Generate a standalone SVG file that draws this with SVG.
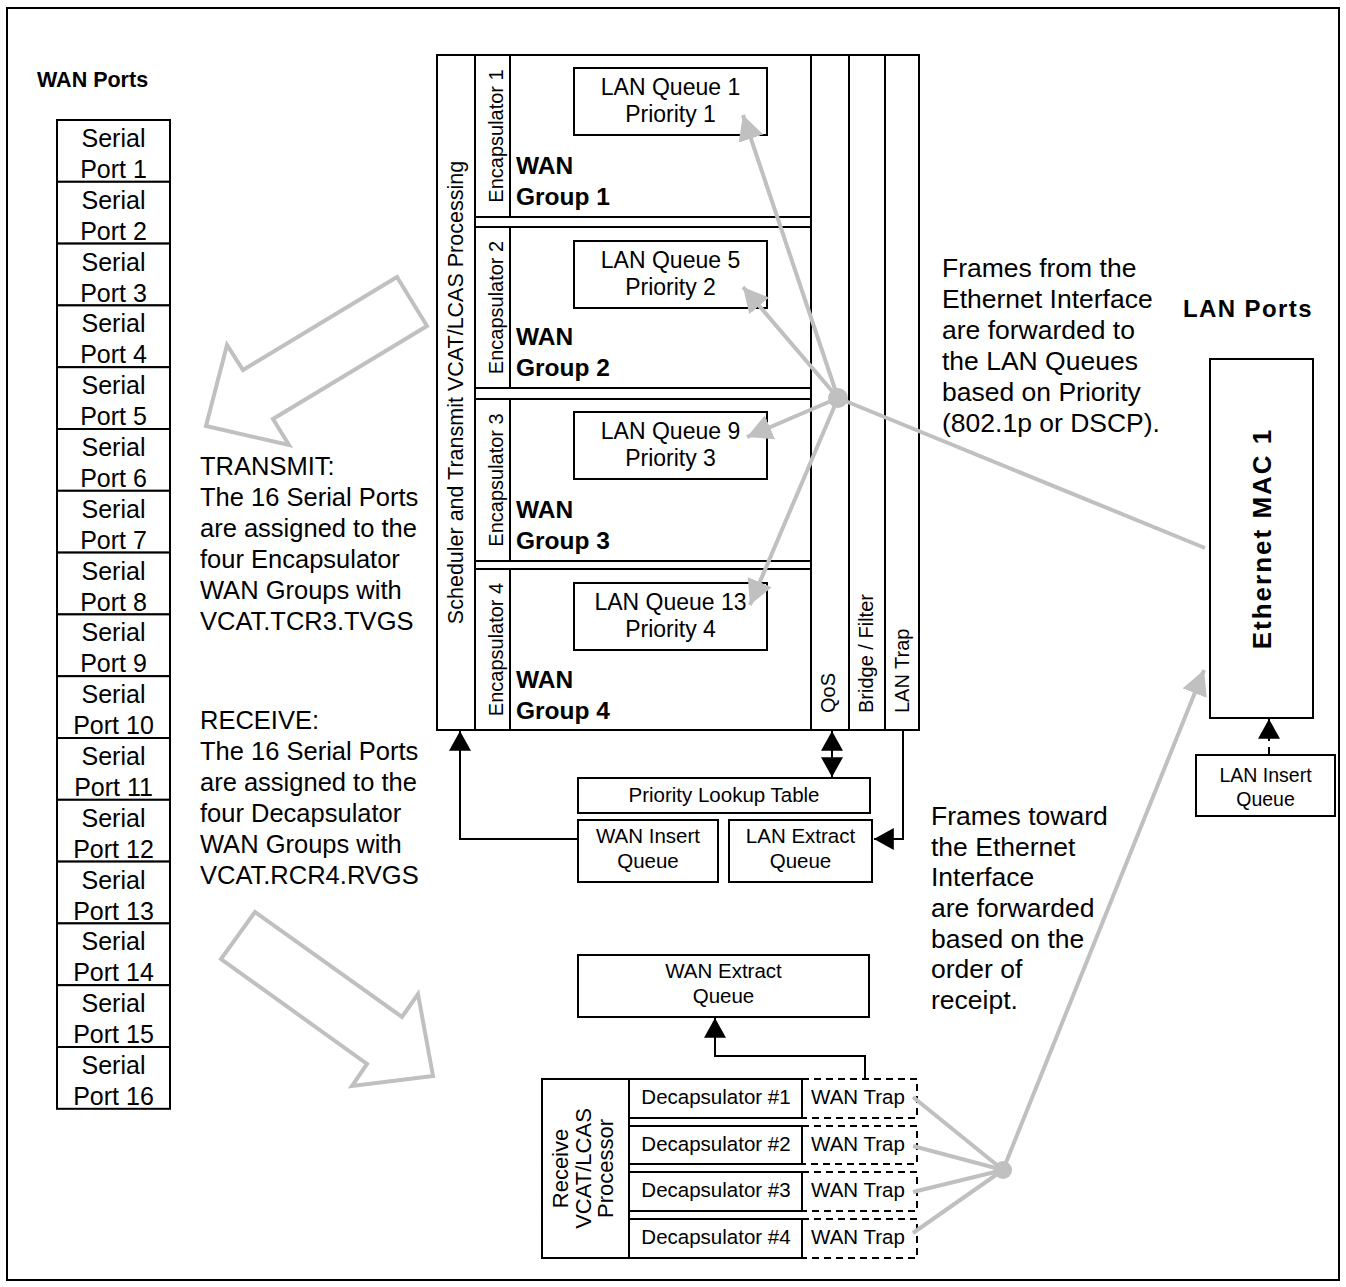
<svg xmlns="http://www.w3.org/2000/svg" width="1346" height="1287" viewBox="0 0 1346 1287">
<style>
text{font-family:"Liberation Sans",Arial,Helvetica,sans-serif;fill:#000}
.box{fill:#fff;stroke:#000;stroke-width:2}
.ln{fill:none;stroke:#000;stroke-width:2}
.dash{fill:none;stroke:#000;stroke-width:2;stroke-dasharray:7,5}
.gl{fill:none;stroke:#c0c0c0;stroke-width:4}
.hollow{fill:none;stroke:#c0c0c0;stroke-width:4;stroke-linejoin:miter}
.port{font-size:25px;text-anchor:middle}
.q{font-size:23px;text-anchor:middle}
.grp{font-size:24.5px;font-weight:bold}
.vt{font-size:20px}
.sm{font-size:20.5px;text-anchor:middle}
.body{font-size:25.5px}
.hdr{font-size:21.5px;font-weight:bold}
</style>
<defs>
<marker id="ab" markerUnits="userSpaceOnUse" markerWidth="22" markerHeight="22" refX="18" refY="10" orient="auto" viewBox="0 0 20 20">
<path d="M0,0 L18,10 L0,20 Z" fill="#000"/>
</marker>
<marker id="ag" markerUnits="userSpaceOnUse" markerWidth="26" markerHeight="26" refX="23" refY="12" orient="auto" viewBox="0 0 24 24">
<path d="M0,0 L23,12 L0,24 Z" fill="#c0c0c0"/>
</marker>
</defs>

<rect x="7" y="8" width="1332" height="1272" fill="none" stroke="#000" stroke-width="2"/>

<g id="wan-ports-label"><text class="hdr" x="37" y="87">WAN Ports</text></g>
<g id="lan-ports-label"><text class="hdr" x="1183" y="317" style="font-size:24px;letter-spacing:1.4px">LAN Ports</text></g>

<g id="serial-ports">
<g id="port1"><rect class="box" x="57" y="120" width="113" height="61.8"/><text class="port" x="113.5" y="147">Serial</text><text class="port" x="113.5" y="178">Port 1</text></g>
<g id="port2"><rect class="box" x="57" y="181.8" width="113" height="61.8"/><text class="port" x="113.5" y="208.8">Serial</text><text class="port" x="113.5" y="239.8">Port 2</text></g>
<g id="port3"><rect class="box" x="57" y="243.6" width="113" height="61.8"/><text class="port" x="113.5" y="270.6">Serial</text><text class="port" x="113.5" y="301.6">Port 3</text></g>
<g id="port4"><rect class="box" x="57" y="305.4" width="113" height="61.8"/><text class="port" x="113.5" y="332.4">Serial</text><text class="port" x="113.5" y="363.4">Port 4</text></g>
<g id="port5"><rect class="box" x="57" y="367.2" width="113" height="61.8"/><text class="port" x="113.5" y="394.2">Serial</text><text class="port" x="113.5" y="425.2">Port 5</text></g>
<g id="port6"><rect class="box" x="57" y="429" width="113" height="61.8"/><text class="port" x="113.5" y="456">Serial</text><text class="port" x="113.5" y="487">Port 6</text></g>
<g id="port7"><rect class="box" x="57" y="490.8" width="113" height="61.8"/><text class="port" x="113.5" y="517.8">Serial</text><text class="port" x="113.5" y="548.8">Port 7</text></g>
<g id="port8"><rect class="box" x="57" y="552.6" width="113" height="61.8"/><text class="port" x="113.5" y="579.6">Serial</text><text class="port" x="113.5" y="610.6">Port 8</text></g>
<g id="port9"><rect class="box" x="57" y="614.4" width="113" height="61.8"/><text class="port" x="113.5" y="641.4">Serial</text><text class="port" x="113.5" y="672.4">Port 9</text></g>
<g id="port10"><rect class="box" x="57" y="676.2" width="113" height="61.8"/><text class="port" x="113.5" y="703.2">Serial</text><text class="port" x="113.5" y="734.2">Port 10</text></g>
<g id="port11"><rect class="box" x="57" y="738" width="113" height="61.8"/><text class="port" x="113.5" y="765">Serial</text><text class="port" x="113.5" y="796">Port 11</text></g>
<g id="port12"><rect class="box" x="57" y="799.8" width="113" height="61.8"/><text class="port" x="113.5" y="826.8">Serial</text><text class="port" x="113.5" y="857.8">Port 12</text></g>
<g id="port13"><rect class="box" x="57" y="861.6" width="113" height="61.8"/><text class="port" x="113.5" y="888.6">Serial</text><text class="port" x="113.5" y="919.6">Port 13</text></g>
<g id="port14"><rect class="box" x="57" y="923.4" width="113" height="61.8"/><text class="port" x="113.5" y="950.4">Serial</text><text class="port" x="113.5" y="981.4">Port 14</text></g>
<g id="port15"><rect class="box" x="57" y="985.2" width="113" height="61.8"/><text class="port" x="113.5" y="1012.2">Serial</text><text class="port" x="113.5" y="1043.2">Port 15</text></g>
<g id="port16"><rect class="box" x="57" y="1047" width="113" height="61.8"/><text class="port" x="113.5" y="1074">Serial</text><text class="port" x="113.5" y="1105">Port 16</text></g>
</g>

<g id="transmit-arrow"><polygon class="hollow" points="397,277 427,326 273,419 289,445 206,426 227,345 243,370"/></g>
<g id="receive-arrow"><polygon class="hollow" points="255,912 221,959 367,1064 352,1086 433,1076 418,994 402,1017"/></g>

<g id="transmit-note">
<text class="body" x="200" y="475">TRANSMIT:</text>
<text class="body" x="200" y="506">The 16 Serial Ports</text>
<text class="body" x="200" y="537">are assigned to the</text>
<text class="body" x="200" y="568">four Encapsulator</text>
<text class="body" x="200" y="599">WAN Groups with</text>
<text class="body" x="200" y="630">VCAT.TCR3.TVGS</text>
</g>
<g id="receive-note">
<text class="body" x="200" y="729">RECEIVE:</text>
<text class="body" x="200" y="760">The 16 Serial Ports</text>
<text class="body" x="200" y="791">are assigned to the</text>
<text class="body" x="200" y="822">four Decapsulator</text>
<text class="body" x="200" y="853">WAN Groups with</text>
<text class="body" x="200" y="884">VCAT.RCR4.RVGS</text>
</g>

<g id="transmit-block">
<rect class="box" x="437" y="55" width="482" height="675"/>
<line class="ln" x1="811" y1="55" x2="811" y2="730"/>
<line class="ln" x1="849" y1="55" x2="849" y2="730"/>
<line class="ln" x1="885" y1="55" x2="885" y2="730"/>
<line class="ln" x1="475" y1="55" x2="475" y2="730"/>
<text class="vt" transform="translate(463,392.5) rotate(-90)" text-anchor="middle" style="font-size:21.5px">Scheduler and Transmit VCAT/LCAS Processing</text>
<g id="qos"><text class="vt" transform="translate(835,713) rotate(-90)">QoS</text></g>
<g id="bridge-filter"><text class="vt" transform="translate(873,713) rotate(-90)">Bridge / Filter</text></g>
<g id="lan-trap"><text class="vt" transform="translate(909,713) rotate(-90)">LAN Trap</text></g>
</g>

<g id="wan-group-1">
<rect class="box" x="475" y="55" width="336" height="162"/>
<line class="ln" x1="510" y1="55" x2="510" y2="217"/>
<text class="vt" transform="translate(503,136) rotate(-90)" text-anchor="middle">Encapsulator 1</text>
<text class="grp" x="516" y="174">WAN</text><text class="grp" x="516" y="205">Group 1</text>
<rect class="box" x="574" y="68" width="193" height="67"/>
<text class="q" x="670.5" y="95">LAN Queue 1</text><text class="q" x="670.5" y="122">Priority 1</text>
</g>
<g id="wan-group-2">
<rect class="box" x="475" y="227" width="336" height="161"/>
<line class="ln" x1="510" y1="227" x2="510" y2="388"/>
<text class="vt" transform="translate(503,307.5) rotate(-90)" text-anchor="middle">Encapsulator 2</text>
<text class="grp" x="516" y="345">WAN</text><text class="grp" x="516" y="376">Group 2</text>
<rect class="box" x="574" y="241" width="193" height="67"/>
<text class="q" x="670.5" y="268">LAN Queue 5</text><text class="q" x="670.5" y="295">Priority 2</text>
</g>
<g id="wan-group-3">
<rect class="box" x="475" y="399" width="336" height="162"/>
<line class="ln" x1="510" y1="399" x2="510" y2="561"/>
<text class="vt" transform="translate(503,480) rotate(-90)" text-anchor="middle">Encapsulator 3</text>
<text class="grp" x="516" y="518">WAN</text><text class="grp" x="516" y="549">Group 3</text>
<rect class="box" x="574" y="412" width="193" height="67"/>
<text class="q" x="670.5" y="439">LAN Queue 9</text><text class="q" x="670.5" y="466">Priority 3</text>
</g>
<g id="wan-group-4">
<rect class="box" x="475" y="569" width="336" height="161"/>
<line class="ln" x1="510" y1="569" x2="510" y2="730"/>
<text class="vt" transform="translate(503,649.5) rotate(-90)" text-anchor="middle">Encapsulator 4</text>
<text class="grp" x="516" y="688">WAN</text><text class="grp" x="516" y="719">Group 4</text>
<rect class="box" x="574" y="583" width="193" height="67"/>
<text class="q" x="670.5" y="610">LAN Queue 13</text><text class="q" x="670.5" y="637">Priority 4</text>
</g>

<g id="priority-lookup-table"><rect class="box" x="578" y="778" width="292" height="35"/><text class="sm" x="724" y="802">Priority Lookup Table</text></g>
<g id="wan-insert-queue"><rect class="box" x="578" y="820" width="140" height="62"/><text class="sm" x="648" y="843">WAN Insert</text><text class="sm" x="648" y="868">Queue</text></g>
<g id="lan-extract-queue"><rect class="box" x="729" y="820" width="143" height="62"/><text class="sm" x="800.5" y="843">LAN Extract</text><text class="sm" x="800.5" y="868">Queue</text></g>

<g id="frames-from-note">
<text class="body" x="942" y="277" style="font-size:26.5px">Frames from the</text>
<text class="body" x="942" y="308" style="font-size:26.5px">Ethernet Interface</text>
<text class="body" x="942" y="339" style="font-size:26.5px">are forwarded to</text>
<text class="body" x="942" y="370" style="font-size:26.5px">the LAN Queues</text>
<text class="body" x="942" y="401" style="font-size:26.5px">based on Priority</text>
<text class="body" x="942" y="432" style="font-size:26.5px">(802.1p or DSCP).</text>
</g>
<g id="frames-toward-note">
<text class="body" x="931" y="825" style="font-size:26.5px">Frames toward</text>
<text class="body" x="931" y="856" style="font-size:26.5px">the Ethernet</text>
<text class="body" x="931" y="886" style="font-size:26.5px">Interface</text>
<text class="body" x="931" y="917" style="font-size:26.5px">are forwarded</text>
<text class="body" x="931" y="948" style="font-size:26.5px">based on the</text>
<text class="body" x="931" y="978" style="font-size:26.5px">order of</text>
<text class="body" x="931" y="1009" style="font-size:26.5px">receipt.</text>
</g>

<g id="ethernet-mac-1"><rect class="box" x="1210" y="359" width="103" height="359"/><text class="grp" transform="translate(1271,538.5) rotate(-90)" text-anchor="middle" style="font-size:26px;letter-spacing:2px">Ethernet MAC 1</text></g>
<g id="lan-insert-queue"><rect class="box" x="1196" y="755" width="139" height="61"/><text class="sm" x="1265.5" y="782" style="font-size:19.5px">LAN Insert</text><text class="sm" x="1265.5" y="806" style="font-size:19.5px">Queue</text></g>

<g id="wan-extract-queue"><rect class="box" x="578" y="955" width="291" height="62"/><text class="sm" x="723.5" y="978">WAN Extract</text><text class="sm" x="723.5" y="1003">Queue</text></g>

<g id="receive-processor">
<rect class="box" x="542" y="1079" width="87" height="179"/>
<g transform="translate(585.5,1168.5) rotate(-90)">
<text x="0" y="-18" text-anchor="middle" style="font-size:22px">Receive</text>
<text x="0" y="5" text-anchor="middle" style="font-size:22px">VCAT/LCAS</text>
<text x="0" y="27" text-anchor="middle" style="font-size:22px">Processor</text>
</g>
</g>
<g id="decap-1"><rect class="box" x="629" y="1079" width="173" height="39"/><text class="sm" x="716" y="1104">Decapsulator #1</text></g>
<g id="decap-2"><rect class="box" x="629" y="1126" width="173" height="38"/><text class="sm" x="716" y="1151">Decapsulator #2</text></g>
<g id="decap-3"><rect class="box" x="629" y="1172" width="173" height="39"/><text class="sm" x="716" y="1197">Decapsulator #3</text></g>
<g id="decap-4"><rect class="box" x="629" y="1219" width="173" height="39"/><text class="sm" x="716" y="1244">Decapsulator #4</text></g>
<g id="wan-trap-1"><rect class="dash" x="802" y="1079" width="115" height="39"/><text class="sm" x="858" y="1104">WAN Trap</text></g>
<g id="wan-trap-2"><rect class="dash" x="802" y="1126" width="115" height="38"/><text class="sm" x="858" y="1151">WAN Trap</text></g>
<g id="wan-trap-3"><rect class="dash" x="802" y="1172" width="115" height="39"/><text class="sm" x="858" y="1197">WAN Trap</text></g>
<g id="wan-trap-4"><rect class="dash" x="802" y="1219" width="115" height="39"/><text class="sm" x="858" y="1244">WAN Trap</text></g>

<g id="connectors">
<line class="gl" x1="838" y1="398" x2="743" y2="115" marker-end="url(#ag)"/>
<line class="gl" x1="838" y1="398" x2="743" y2="287" marker-end="url(#ag)"/>
<line class="gl" x1="838" y1="398" x2="747" y2="437" marker-end="url(#ag)"/>
<line class="gl" x1="838" y1="398" x2="750" y2="605" marker-end="url(#ag)"/>
<line class="gl" x1="838" y1="398" x2="1205" y2="548"/>
<circle cx="838" cy="398" r="10" fill="#c0c0c0"/>
<line class="gl" x1="913" y1="1097" x2="1003" y2="1170"/>
<line class="gl" x1="913" y1="1146" x2="1003" y2="1170"/>
<line class="gl" x1="913" y1="1192" x2="1003" y2="1170"/>
<line class="gl" x1="913" y1="1233" x2="1003" y2="1170"/>
<line class="gl" x1="1003" y1="1170" x2="1204" y2="670" marker-end="url(#ag)"/>
<circle cx="1003" cy="1170" r="9" fill="#c0c0c0"/>
<polyline class="ln" points="578,839 460,839 460,731" marker-end="url(#ab)"/>
<line class="ln" x1="832" y1="754" x2="832" y2="731" marker-end="url(#ab)"/>
<line class="ln" x1="832" y1="754" x2="832" y2="777" marker-end="url(#ab)"/>
<polyline class="ln" points="903,730 903,839 874,839" marker-end="url(#ab)"/>
<polyline class="ln" points="865,1079 865,1056 715,1056 715,1018" marker-end="url(#ab)"/>
<line class="dash" x1="1269" y1="755" x2="1269" y2="719" marker-end="url(#ab)" style="stroke-dasharray:8,6"/>
</g>
</svg>
